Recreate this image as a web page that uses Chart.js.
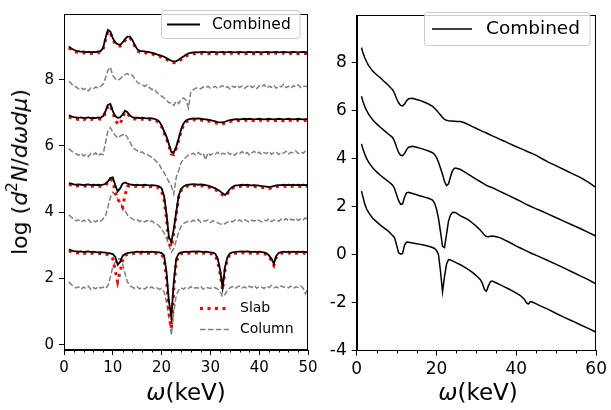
<!DOCTYPE html>
<html><head><meta charset="utf-8">
<script src="https://cdn.jsdelivr.net/npm/chart.js@4.4.1/dist/chart.umd.min.js"></script>
<style>
html,body{margin:0;padding:0;background:#fff;}
#wrap{position:relative;width:611px;height:410px;overflow:hidden;}
canvas{position:absolute;left:0;top:0;}
.t{position:absolute;white-space:nowrap;color:#000;font-family:'DejaVu Sans';line-height:1;}
.t i{font-style:oblique;}
.t sup{font-size:0.7em;position:relative;top:-0.1em;vertical-align:super;line-height:0;}
</style></head><body>
<div id="wrap">
<canvas id="cL" width="611" height="410"></canvas>
<canvas id="cR" width="611" height="410"></canvas>
<div class="t" style="left:20px;top:172px;font-size:22px;transform:translate(-50%,-50%) rotate(-90deg);">log (<i>d</i><sup>2</sup><i>N</i>/<i>dωdμ</i>)</div>
<div class="t" style="left:186px;top:392px;font-size:23px;transform:translate(-50%,-50%);"><i>ω</i>(keV)</div>
<div class="t" style="left:478px;top:392px;font-size:23px;transform:translate(-50%,-50%);"><i>ω</i>(keV)</div>
</div>
<script>
// ---------- Left panel data ----------
const leftX = [1,1.5,2,2.5,3,3.5,4,4.5,5,5.5,
6,6.5,7,7.5,8,8.5,9,9.5,10,10.5,
11,11.5,12,12.5,13,13.5,14,14.5,15,15.5,
16,16.5,17,17.5,18,18.5,19,19.5,20,20.5,
21,21.5,22,22.5,23,23.5,24,24.5,25,25.5,
26,26.5,27,27.5,28,28.5,29,29.5,30,30.5,
31,31.5,32,32.5,33,33.5,34,34.5,35,35.5,
36,36.5,37,37.5,38,38.5,39,39.5,40,40.5,
41,41.5,42,42.5,43,43.5,44,44.5,45,45.5,
46,46.5,47,47.5,48,48.5,49,49.5,50];

const comb1 = [9.00,8.94,8.90,8.87,8.86,8.84,8.85,8.83,8.84,8.83,
8.84,8.83,8.85,8.86,8.95,9.25,9.50,9.45,9.25,9.12,
9.07,9.05,9.12,9.22,9.30,9.30,9.20,9.05,8.92,8.87,
8.86,8.85,8.84,8.83,8.81,8.79,8.76,8.74,8.72,8.69,
8.65,8.61,8.57,8.55,8.56,8.60,8.65,8.70,8.75,8.79,
8.81,8.82,8.83,8.82,8.83,8.84,8.83,8.82,8.83,8.84,
8.83,8.82,8.83,8.84,8.82,8.83,8.84,8.83,8.82,8.83,
8.84,8.83,8.82,8.83,8.84,8.83,8.82,8.84,8.83,8.82,
8.83,8.84,8.83,8.82,8.83,8.84,8.82,8.83,8.84,8.83,
8.82,8.83,8.84,8.83,8.82,8.83,8.84,8.83,8.83];
const slab1 = [8.96,8.90,8.86,8.83,8.82,8.80,8.81,8.79,8.80,8.79,
8.80,8.79,8.81,8.82,8.91,9.20,9.46,9.41,9.21,9.08,
9.03,9.01,9.08,9.18,9.26,9.26,9.16,9.01,8.88,8.83,
8.82,8.81,8.80,8.79,8.77,8.75,8.72,8.70,8.68,8.65,
8.61,8.57,8.53,8.51,8.52,8.56,8.61,8.66,8.71,8.75,
8.77,8.78,8.79,8.78,8.79,8.80,8.79,8.78,8.79,8.80,
8.79,8.78,8.79,8.80,8.78,8.79,8.80,8.79,8.78,8.79,
8.80,8.79,8.78,8.79,8.80,8.79,8.78,8.80,8.79,8.78,
8.79,8.80,8.79,8.78,8.79,8.80,8.78,8.79,8.80,8.79,
8.78,8.79,8.80,8.79,8.78,8.79,8.80,8.79,8.79];
const col1 = [7.95,7.88,7.80,7.78,7.72,7.76,7.70,7.74,7.66,7.75,
7.72,7.78,7.74,7.80,7.86,8.05,8.28,8.38,8.12,8.03,
7.98,8.02,8.10,8.15,8.18,8.12,8.14,8.02,7.92,7.88,
7.85,7.80,7.84,7.76,7.70,7.72,7.62,7.55,7.50,7.45,
7.38,7.30,7.30,7.22,7.35,7.28,7.40,7.45,7.38,7.15,
7.65,7.70,7.74,7.76,7.72,7.78,7.75,7.80,7.74,7.77,
7.80,7.73,7.78,7.82,7.75,7.79,7.72,7.80,7.77,7.83,
7.76,7.81,7.74,7.79,7.84,7.76,7.80,7.73,7.82,7.78,
7.85,7.75,7.80,7.77,7.83,7.74,7.81,7.78,7.86,7.76,
7.80,7.74,7.82,7.78,7.84,7.76,7.81,7.79,7.80];

const comb2 = [6.92,6.89,6.87,6.86,6.85,6.86,6.84,6.85,6.86,6.84,
6.85,6.84,6.86,6.85,6.90,7.05,7.24,7.27,7.05,6.90,
6.85,6.86,6.95,7.06,7.02,6.92,6.87,6.85,6.85,6.84,
6.85,6.84,6.83,6.84,6.83,6.82,6.79,6.74,6.62,6.45,
6.28,6.05,5.82,5.80,5.98,6.22,6.50,6.68,6.77,6.80,
6.82,6.83,6.82,6.83,6.82,6.81,6.80,6.79,6.78,6.76,
6.74,6.72,6.71,6.71,6.73,6.76,6.78,6.79,6.80,6.81,
6.80,6.81,6.82,6.81,6.82,6.81,6.80,6.81,6.82,6.81,
6.80,6.81,6.82,6.81,6.80,6.81,6.82,6.81,6.80,6.81,
6.82,6.81,6.80,6.81,6.82,6.81,6.80,6.81,6.81];
const slab2 = [6.88,6.85,6.82,6.81,6.80,6.82,6.80,6.81,6.82,6.80,
6.81,6.80,6.82,6.81,6.86,7.00,7.20,7.23,7.00,6.80,
6.66,6.65,6.88,7.02,6.98,6.88,6.83,6.81,6.81,6.80,
6.81,6.80,6.79,6.80,6.79,6.78,6.75,6.70,6.58,6.40,
6.23,6.00,5.76,5.74,5.93,6.17,6.45,6.63,6.73,6.76,
6.78,6.79,6.78,6.79,6.78,6.77,6.76,6.75,6.74,6.72,
6.70,6.68,6.67,6.67,6.69,6.72,6.74,6.75,6.76,6.77,
6.76,6.77,6.78,6.77,6.78,6.77,6.76,6.77,6.78,6.77,
6.76,6.77,6.78,6.77,6.76,6.77,6.78,6.77,6.76,6.77,
6.78,6.77,6.76,6.77,6.78,6.77,6.76,6.77,6.77];
const col2 = [5.92,5.85,5.80,5.76,5.72,5.78,5.70,5.75,5.68,5.77,
5.73,5.79,5.70,5.76,5.74,6.10,6.45,6.55,6.42,6.32,
6.24,6.30,6.33,6.37,6.25,6.12,5.98,5.90,5.86,5.80,
5.82,5.76,5.75,5.70,5.66,5.60,5.52,5.45,5.30,5.20,
5.05,4.92,4.80,4.55,5.05,5.25,5.50,5.60,5.66,5.72,
5.74,5.78,5.72,5.80,5.74,5.79,5.58,5.80,5.72,5.78,
5.75,5.81,5.73,5.78,5.76,5.82,5.74,5.79,5.72,5.80,
5.77,5.83,5.75,5.80,5.73,5.79,5.84,5.76,5.81,5.74,
5.80,5.77,5.83,5.75,5.79,5.82,5.74,5.80,5.78,5.84,
5.76,5.81,5.79,5.85,5.77,5.82,5.78,5.84,5.80];

const comb3 = [4.88,4.86,4.84,4.83,4.84,4.83,4.82,4.83,4.84,4.82,
4.83,4.82,4.83,4.82,4.83,4.86,4.93,5.03,5.05,4.82,
4.63,4.72,4.86,4.90,4.86,4.84,4.83,4.82,4.83,4.82,
4.82,4.83,4.82,4.81,4.82,4.81,4.80,4.78,4.72,4.50,
3.95,3.25,3.10,3.50,4.00,4.50,4.70,4.78,4.82,4.83,
4.84,4.85,4.84,4.83,4.84,4.83,4.82,4.80,4.78,4.75,
4.72,4.68,4.63,4.57,4.52,4.60,4.70,4.76,4.80,4.81,
4.82,4.83,4.82,4.83,4.82,4.81,4.82,4.81,4.80,4.79,
4.78,4.77,4.76,4.77,4.79,4.81,4.82,4.82,4.83,4.82,
4.83,4.82,4.83,4.82,4.83,4.82,4.83,4.82,4.83];
const slab3 = [4.84,4.82,4.80,4.79,4.80,4.79,4.78,4.79,4.80,4.78,
4.79,4.78,4.79,4.78,4.79,4.82,4.89,5.00,4.95,4.62,
4.40,4.28,4.15,4.50,4.78,4.80,4.79,4.78,4.79,4.78,
4.78,4.79,4.78,4.77,4.78,4.77,4.76,4.73,4.64,4.38,
3.80,3.10,2.95,3.40,3.95,4.45,4.66,4.74,4.78,4.79,
4.80,4.81,4.80,4.79,4.80,4.79,4.78,4.76,4.74,4.71,
4.68,4.64,4.59,4.52,4.48,4.56,4.66,4.72,4.76,4.77,
4.78,4.79,4.78,4.79,4.78,4.77,4.78,4.77,4.76,4.75,
4.74,4.73,4.72,4.73,4.75,4.77,4.78,4.78,4.79,4.78,
4.79,4.78,4.79,4.78,4.79,4.78,4.79,4.78,4.79];
const col3 = [3.92,3.85,3.80,3.74,3.77,3.70,3.76,3.72,3.78,3.69,
3.75,3.71,3.77,3.73,3.80,3.88,4.15,4.45,4.60,4.52,
4.40,4.30,4.18,4.05,3.92,3.85,3.80,3.76,3.78,3.72,
3.76,3.71,3.75,3.70,3.74,3.68,3.65,3.58,3.50,3.38,
3.22,3.00,2.80,2.90,3.15,3.40,3.58,3.66,3.70,3.73,
3.71,3.76,3.72,3.78,3.70,3.75,3.73,3.77,3.69,3.74,
3.72,3.68,3.65,3.62,3.66,3.70,3.74,3.71,3.76,3.73,
3.77,3.72,3.78,3.74,3.70,3.76,3.73,3.79,3.75,3.71,
3.77,3.74,3.80,3.72,3.76,3.78,3.73,3.79,3.75,3.81,
3.74,3.79,3.76,3.82,3.75,3.80,3.77,3.83,3.78];

const comb4 = [2.88,2.85,2.83,2.82,2.81,2.82,2.80,2.81,2.82,2.80,
2.81,2.80,2.79,2.80,2.79,2.78,2.77,2.76,2.74,2.65,
2.42,2.50,2.68,2.74,2.77,2.78,2.79,2.80,2.81,2.80,
2.81,2.80,2.81,2.80,2.81,2.80,2.80,2.79,2.77,2.70,
2.20,1.30,0.85,1.90,2.60,2.75,2.79,2.80,2.81,2.80,
2.81,2.82,2.81,2.82,2.81,2.80,2.81,2.80,2.79,2.78,
2.75,2.60,2.25,1.72,2.35,2.65,2.76,2.79,2.80,2.81,
2.81,2.82,2.81,2.82,2.81,2.80,2.81,2.80,2.81,2.80,
2.79,2.76,2.70,2.60,2.45,2.68,2.77,2.80,2.81,2.80,
2.81,2.80,2.81,2.80,2.81,2.80,2.81,2.80,2.80];
const slab4 = [2.84,2.81,2.79,2.78,2.77,2.78,2.76,2.77,2.78,2.76,
2.77,2.76,2.75,2.76,2.75,2.74,2.72,2.68,2.60,2.25,
1.90,2.20,2.55,2.70,2.73,2.74,2.75,2.76,2.77,2.76,
2.77,2.76,2.77,2.76,2.77,2.76,2.76,2.75,2.72,2.62,
2.00,1.00,0.50,1.70,2.50,2.70,2.75,2.76,2.77,2.76,
2.77,2.78,2.77,2.78,2.77,2.76,2.77,2.76,2.75,2.74,
2.70,2.52,2.15,1.65,2.28,2.60,2.72,2.75,2.76,2.77,
2.77,2.78,2.77,2.78,2.77,2.76,2.77,2.76,2.77,2.76,
2.75,2.72,2.66,2.55,2.40,2.64,2.73,2.76,2.77,2.76,
2.77,2.76,2.77,2.76,2.77,2.76,2.77,2.76,2.76];
const col4 = [1.90,1.82,1.76,1.72,1.75,1.68,1.74,1.70,1.77,1.67,
1.73,1.69,1.76,1.71,1.74,1.70,1.78,2.05,2.35,2.50,
2.58,2.60,2.45,2.15,1.90,1.78,1.74,1.70,1.75,1.69,
1.73,1.68,1.74,1.70,1.75,1.69,1.72,1.68,1.70,1.60,
1.30,0.80,0.30,1.00,1.50,1.65,1.72,1.68,1.74,1.70,
1.76,1.69,1.73,1.71,1.77,1.68,1.74,1.72,1.70,1.75,
1.72,1.68,1.60,1.45,1.52,1.65,1.72,1.76,1.70,1.74,
1.78,1.72,1.75,1.70,1.77,1.73,1.79,1.71,1.76,1.74,
1.70,1.77,1.73,1.79,1.72,1.75,1.71,1.78,1.74,1.76,
1.72,1.77,1.70,1.75,1.73,1.78,1.71,1.54,1.74];

const leftXTicks = [0,10,20,30,40,50];
const leftXMinor = [2,4,6,8,12,14,16,18,22,24,26,28,32,34,36,38,42,44,46,48];
const leftYTicks = [0,2,4,6,8];

// ---------- Right panel data ----------
const rightX = [1.2,1.5,2,2.5,3,4,5,6,7,8,
8.5,9,9.5,10,10.5,11,11.5,12,12.5,13,
14,15,16,17,18,19,19.5,20,20.5,21,
21.5,22,22.5,23,23.5,24,24.5,25,26,27,
28,29,30,31,31.5,32,32.5,33,33.5,34,
35,36,37,38,40,41,42,42.5,43,43.5,
44,45,46,48,50,52,54,56,58,60];
const rightA = [8.63,8.45,8.22,8.03,7.88,7.65,7.50,7.36,7.20,7.05,
6.96,6.88,6.72,6.50,6.33,6.22,6.20,6.28,6.42,6.50,
6.52,6.47,6.42,6.35,6.28,6.18,6.10,6.02,5.92,5.82,
5.72,5.64,5.60,5.58,5.57,5.57,5.56,5.55,5.55,5.50,
5.42,5.34,5.26,5.18,5.14,5.11,5.07,5.03,4.99,4.95,
4.88,4.80,4.73,4.65,4.50,4.43,4.36,4.32,4.28,4.25,
4.21,4.14,4.04,3.86,3.70,3.54,3.38,3.22,3.02,2.80];
const rightB = [6.60,6.42,6.18,6.00,5.85,5.62,5.45,5.30,5.16,5.02,
4.95,4.88,4.72,4.48,4.26,4.14,4.13,4.22,4.38,4.48,
4.52,4.48,4.43,4.38,4.32,4.25,4.18,4.05,3.85,3.60,
3.35,3.05,2.88,2.95,3.25,3.50,3.60,3.60,3.55,3.45,
3.35,3.24,3.14,3.04,2.99,2.94,2.89,2.85,2.82,2.79,
2.71,2.63,2.55,2.47,2.31,2.23,2.14,2.10,2.06,2.02,
1.98,1.91,1.84,1.69,1.54,1.39,1.24,1.09,0.93,0.77];
const rightC = [4.62,4.44,4.20,4.00,3.85,3.62,3.45,3.30,3.17,3.04,
2.97,2.90,2.75,2.50,2.25,2.10,2.12,2.40,2.58,2.60,
2.55,2.50,2.45,2.40,2.35,2.28,2.15,1.90,1.50,0.95,
0.35,0.30,0.85,1.40,1.65,1.76,1.77,1.73,1.62,1.54,
1.45,1.32,1.18,1.02,0.92,0.82,0.76,0.75,0.77,0.78,
0.75,0.70,0.62,0.54,0.36,0.28,0.20,0.16,0.12,0.08,
0.04,-0.03,-0.10,-0.25,-0.40,-0.56,-0.72,-0.88,-1.04,-1.22];
const rightD = [2.65,2.45,2.12,1.90,1.75,1.52,1.37,1.22,1.10,0.97,
0.88,0.80,0.70,0.40,0.08,0.02,0.05,0.40,0.53,0.52,
0.49,0.46,0.43,0.39,0.35,0.30,0.26,0.18,0.00,-0.70,
-1.55,-0.90,-0.40,-0.20,-0.22,-0.26,-0.30,-0.34,-0.42,-0.52,
-0.62,-0.74,-0.88,-1.04,-1.20,-1.45,-1.52,-1.30,-1.12,-1.10,
-1.18,-1.26,-1.34,-1.42,-1.60,-1.70,-1.85,-2.00,-2.05,-1.95,
-1.97,-2.05,-2.13,-2.28,-2.45,-2.61,-2.76,-2.92,-3.07,-3.23];

const rightXTicks = [0,20,40,60];
const rightXMinor = [5,10,15,25,30,35,45,50,55];
const rightYTicks = [-4,-2,0,2,4,6,8];

// ---------- helpers ----------
const FONT = 'DejaVu Sans';
function line(xs, ys, color, width, dash, order) {
  return { data: xs.map((x, i) => ({ x: x, y: ys[i] })), borderColor: color, borderWidth: width,
    borderDash: dash, borderCapStyle: 'butt', pointRadius: 0, fill: false, tension: 0, order: order };
}
const BLACK = '#000000', RED = '#ff0000', GRAY = '#808080';
const DOT = [3, 4.5], DASH = [5.5, 2.4];

const framePlugin = {
  id: 'frameMinor',
  afterDraw(chart, args, opts) {
    const ctx = chart.ctx, a = chart.chartArea;
    ctx.save();
    ctx.strokeStyle = '#000'; ctx.lineWidth = 1; ctx.setLineDash([]);
    const l = Math.round(a.left) + 0.5, r = Math.round(a.right) - 0.5, t = Math.round(a.top) + 0.5, b = Math.round(a.bottom) - 0.5;
    ctx.strokeRect(l, t, r - l, b - t);
    const xs = chart.scales.x;
    ctx.beginPath();
    (opts.minor || []).forEach(v => {
      const px = Math.round(xs.getPixelForValue(v)) + 0.5;
      ctx.moveTo(px, b); ctx.lineTo(px, b + 3);
    });
    ctx.stroke();
    // legends
    (opts.legends || []).forEach(lg => {
      if (lg.frame) {
        const x = lg.x, y = lg.y, w = lg.w, h = lg.h, rr = 3;
        ctx.beginPath();
        ctx.moveTo(x + rr, y); ctx.lineTo(x + w - rr, y); ctx.arcTo(x + w, y, x + w, y + rr, rr);
        ctx.lineTo(x + w, y + h - rr); ctx.arcTo(x + w, y + h, x + w - rr, y + h, rr);
        ctx.lineTo(x + rr, y + h); ctx.arcTo(x, y + h, x, y + h - rr, rr);
        ctx.lineTo(x, y + rr); ctx.arcTo(x, y, x + rr, y, rr); ctx.closePath();
        ctx.fillStyle = 'rgba(255,255,255,0.8)'; ctx.fill();
        ctx.strokeStyle = '#cccccc'; ctx.lineWidth = 1; ctx.stroke();
      }
      lg.items.forEach((it, k) => {
        const ds = chart.data.datasets[it.ds];
        const y = lg.y0 + k * lg.dy;
        ctx.beginPath();
        ctx.strokeStyle = ds.borderColor; ctx.lineWidth = ds.borderWidth; ctx.setLineDash(ds.borderDash || []);
        ctx.lineCap = 'butt';
        ctx.moveTo(lg.lx0, y); ctx.lineTo(lg.lx1, y); ctx.stroke();
        ctx.setLineDash([]);
        ctx.fillStyle = '#000'; ctx.font = lg.size + 'px "' + FONT + '"';
        ctx.textBaseline = 'middle'; ctx.textAlign = 'left';
        ctx.fillText(it.label, lg.tx, y);
      });
    });
    ctx.restore();
  }
};

function axisOpts(min, max, ticks, fit, size, isX) {
  return {
    type: 'linear', min: min, max: max,
    afterBuildTicks: s => { s.ticks = ticks.map(v => ({ value: v })); },
    afterFit: fit,
    grid: { display: true, drawOnChartArea: false, drawTicks: true, tickLength: 5, color: '#000', lineWidth: 1 },
    border: { display: true, color: '#000', width: 1 },
    ticks: { color: '#000', font: { family: FONT, size: size }, padding: isX ? 4 : 5, maxRotation: 0, autoSkip: false }
  };
}

// ---------- left chart ----------
new Chart(document.getElementById('cL'), {
  type: 'line',
  data: { datasets: [
    line(leftX, comb1, BLACK, 1.8, [], 0), line(leftX, slab1, RED, 3, DOT, 1), line(leftX, col1, GRAY, 1.5, DASH, 2),
    line(leftX, comb2, BLACK, 1.8, [], 0), line(leftX, slab2, RED, 3, DOT, 1), line(leftX, col2, GRAY, 1.5, DASH, 2),
    line(leftX, comb3, BLACK, 1.8, [], 0), line(leftX, slab3, RED, 3, DOT, 1), line(leftX, col3, GRAY, 1.5, DASH, 2),
    line(leftX, comb4, BLACK, 1.8, [], 0), line(leftX, slab4, RED, 3, DOT, 1), line(leftX, col4, GRAY, 1.5, DASH, 2)
  ]},
  options: {
    responsive: false, animation: false, events: [],
    layout: { padding: { left: 0, top: 2, right: 303, bottom: 0 } },
    scales: {
      x: axisOpts(0, 50, leftXTicks, s => { s.height = 60; }, 15, true),
      y: axisOpts(-0.155, 9.98, leftYTicks, s => { s.width = 64; }, 15, false)
    },
    plugins: {
      legend: { display: false }, tooltip: { enabled: false },
      frameMinor: { minor: leftXMinor, legends: [
        { frame: true, x: 161.5, y: 10.5, w: 138.5, h: 28, lx0: 167, lx1: 200, tx: 212, y0: 24.5, dy: 0, size: 15.5,
          items: [{ ds: 0, label: 'Combined' }] },
        { frame: false, lx0: 200, lx1: 229, tx: 240, y0: 308.5, dy: 21, size: 14,
          items: [{ ds: 1, label: 'Slab' }, { ds: 2, label: 'Column' }] }
      ]}
    }
  },
  plugins: [framePlugin]
});

// ---------- right chart ----------
new Chart(document.getElementById('cR'), {
  type: 'line',
  data: { datasets: [
    line(rightX, rightA, BLACK, 1.5, [], 0), line(rightX, rightB, BLACK, 1.5, [], 0),
    line(rightX, rightC, BLACK, 1.5, [], 0), line(rightX, rightD, BLACK, 1.5, [], 0)
  ]},
  options: {
    responsive: false, animation: false, events: [],
    layout: { padding: { left: 0, top: 2.3, right: 11, bottom: 0 } },
    scales: {
      x: axisOpts(0, 60, rightXTicks, s => { s.height = 59.3; }, 17, true),
      y: axisOpts(-4, 9.98, rightYTicks, s => { s.width = 356.7; }, 17, false)
    },
    plugins: {
      legend: { display: false }, tooltip: { enabled: false },
      frameMinor: { minor: rightXMinor, legends: [
        { frame: true, x: 424.5, y: 12.5, w: 165.5, h: 33, lx0: 432, lx1: 472, tx: 486, y0: 29, dy: 0, size: 18.5,
          items: [{ ds: 0, label: 'Combined' }] }
      ]}
    }
  },
  plugins: [framePlugin]
});
</script>
</body></html>
